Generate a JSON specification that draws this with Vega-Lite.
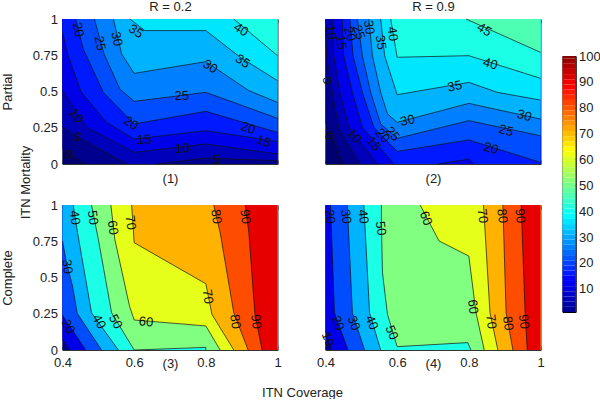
{
"$schema":"https://vega.github.io/schema/vega-lite/v6.json",
"padding":{"left":0.5,"top":0,"right":0,"bottom":0},
"config":{"view":{"stroke":null},"axis":{"zindex":1,"grid":false,"domain":true,"domainColor":"#333","domainWidth":1,"tickColor":"#333","tickWidth":1,"tickSize":-4,"labelFlush":false,"labelOverlap":false,"labelFont":"Liberation Sans","labelFontSize":13,"labelColor":"#222","titleFont":"Liberation Sans","titleFontSize":13,"titleFontWeight":"normal","titleColor":"#222","titleBaseline":"alphabetic"},"axisX":{"labelPadding":10},"axisY":{"labelPadding":9},"text":{"font":"Liberation Sans","fontSize":13,"color":"#111"}},
"datasets":{"contours":[
{"panel":1,"level":-5,"part":0,"seq":0,"x":0.4,"y":0},{"panel":1,"level":-5,"part":0,"seq":1,"x":1,"y":0},{"panel":1,"level":-5,"part":0,"seq":2,"x":1,"y":1},{"panel":1,"level":-5,"part":0,"seq":3,"x":0.4,"y":1},
{"panel":1,"level":0,"part":1,"seq":0,"x":0.4,"y":0.103},{"panel":1,"level":0,"part":1,"seq":1,"x":0.4625,"y":0},{"panel":1,"level":0,"part":0,"seq":2,"x":1,"y":0},{"panel":1,"level":0,"part":0,"seq":3,"x":1,"y":1},{"panel":1,"level":0,"part":0,"seq":4,"x":0.4,"y":1},
{"panel":1,"level":5,"part":1,"seq":0,"x":0.4,"y":0.253},{"panel":1,"level":5,"part":1,"seq":1,"x":0.453,"y":0.172},{"panel":1,"level":5,"part":1,"seq":2,"x":0.579,"y":0},{"panel":1,"level":5,"part":2,"seq":3,"x":0.663,"y":0},{"panel":1,"level":5,"part":2,"seq":4,"x":0.8,"y":0.041},{"panel":1,"level":5,"part":2,"seq":5,"x":1,"y":0.023},{"panel":1,"level":5,"part":0,"seq":6,"x":1,"y":1},{"panel":1,"level":5,"part":0,"seq":7,"x":0.4,"y":1},
{"panel":1,"level":10,"part":1,"seq":0,"x":0.4,"y":0.506},{"panel":1,"level":10,"part":1,"seq":1,"x":0.467,"y":0.253},{"panel":1,"level":10,"part":1,"seq":2,"x":0.6,"y":0.08},{"panel":1,"level":10,"part":1,"seq":3,"x":0.8,"y":0.138},{"panel":1,"level":10,"part":1,"seq":4,"x":1,"y":0.069},{"panel":1,"level":10,"part":0,"seq":5,"x":1,"y":1},{"panel":1,"level":10,"part":0,"seq":6,"x":0.4,"y":1},
{"panel":1,"level":15,"part":1,"seq":0,"x":0.4,"y":0.908},{"panel":1,"level":15,"part":1,"seq":1,"x":0.416,"y":0.747},{"panel":1,"level":15,"part":1,"seq":2,"x":0.453,"y":0.494},{"panel":1,"level":15,"part":1,"seq":3,"x":0.523,"y":0.287},{"panel":1,"level":15,"part":1,"seq":4,"x":0.6,"y":0.172},{"panel":1,"level":15,"part":1,"seq":5,"x":0.8,"y":0.23},{"panel":1,"level":15,"part":1,"seq":6,"x":1,"y":0.154},{"panel":1,"level":15,"part":0,"seq":7,"x":1,"y":1},{"panel":1,"level":15,"part":0,"seq":8,"x":0.4,"y":1},
{"panel":1,"level":20,"part":1,"seq":0,"x":0.437,"y":1},{"panel":1,"level":20,"part":1,"seq":1,"x":0.458,"y":0.793},{"panel":1,"level":20,"part":1,"seq":2,"x":0.514,"y":0.494},{"panel":1,"level":20,"part":1,"seq":3,"x":0.6,"y":0.276},{"panel":1,"level":20,"part":1,"seq":4,"x":0.8,"y":0.363},{"panel":1,"level":20,"part":1,"seq":5,"x":1,"y":0.218},{"panel":1,"level":20,"part":0,"seq":6,"x":1,"y":1},
{"panel":1,"level":25,"part":1,"seq":0,"x":0.489,"y":1},{"panel":1,"level":25,"part":1,"seq":1,"x":0.516,"y":0.759},{"panel":1,"level":25,"part":1,"seq":2,"x":0.56,"y":0.517},{"panel":1,"level":25,"part":1,"seq":3,"x":0.6,"y":0.432},{"panel":1,"level":25,"part":1,"seq":4,"x":0.8,"y":0.494},{"panel":1,"level":25,"part":1,"seq":5,"x":1,"y":0.315},{"panel":1,"level":25,"part":0,"seq":6,"x":1,"y":1},
{"panel":1,"level":30,"part":1,"seq":0,"x":0.542,"y":1},{"panel":1,"level":30,"part":1,"seq":1,"x":0.565,"y":0.759},{"panel":1,"level":30,"part":1,"seq":2,"x":0.6,"y":0.625},{"panel":1,"level":30,"part":1,"seq":3,"x":0.8,"y":0.706},{"panel":1,"level":30,"part":1,"seq":4,"x":0.92,"y":0.506},{"panel":1,"level":30,"part":1,"seq":5,"x":1,"y":0.425},{"panel":1,"level":30,"part":0,"seq":6,"x":1,"y":1},
{"panel":1,"level":35,"part":1,"seq":0,"x":0.588,"y":1},{"panel":1,"level":35,"part":1,"seq":1,"x":0.63,"y":0.92},{"panel":1,"level":35,"part":1,"seq":2,"x":0.8,"y":0.92},{"panel":1,"level":35,"part":1,"seq":3,"x":0.896,"y":0.736},{"panel":1,"level":35,"part":1,"seq":4,"x":1,"y":0.575},{"panel":1,"level":35,"part":0,"seq":5,"x":1,"y":1},
{"panel":1,"level":40,"part":1,"seq":0,"x":0.878,"y":1},{"panel":1,"level":40,"part":1,"seq":1,"x":1,"y":0.747},{"panel":1,"level":40,"part":0,"seq":2,"x":1,"y":1},

{"panel":2,"level":-5,"part":0,"seq":0,"x":0.4,"y":0},{"panel":2,"level":-5,"part":0,"seq":1,"x":1,"y":0},{"panel":2,"level":-5,"part":0,"seq":2,"x":1,"y":1},{"panel":2,"level":-5,"part":0,"seq":3,"x":0.4,"y":1},
{"panel":2,"level":0,"part":1,"seq":0,"x":0.4,"y":0.287},{"panel":2,"level":0,"part":1,"seq":1,"x":0.419,"y":0.195},{"panel":2,"level":0,"part":1,"seq":2,"x":0.449,"y":0},{"panel":2,"level":0,"part":0,"seq":3,"x":1,"y":0},{"panel":2,"level":0,"part":0,"seq":4,"x":1,"y":1},{"panel":2,"level":0,"part":0,"seq":5,"x":0.4,"y":1},
{"panel":2,"level":5,"part":1,"seq":0,"x":0.4,"y":0.931},{"panel":2,"level":5,"part":1,"seq":1,"x":0.403,"y":0.747},{"panel":2,"level":5,"part":1,"seq":2,"x":0.419,"y":0.494},{"panel":2,"level":5,"part":1,"seq":3,"x":0.437,"y":0.253},{"panel":2,"level":5,"part":1,"seq":4,"x":0.496,"y":0},{"panel":2,"level":5,"part":0,"seq":5,"x":1,"y":0},{"panel":2,"level":5,"part":0,"seq":6,"x":1,"y":1},{"panel":2,"level":5,"part":0,"seq":7,"x":0.4,"y":1},
{"panel":2,"level":10,"part":1,"seq":0,"x":0.419,"y":1},{"panel":2,"level":10,"part":1,"seq":1,"x":0.423,"y":0.747},{"panel":2,"level":10,"part":1,"seq":2,"x":0.44,"y":0.494},{"panel":2,"level":10,"part":1,"seq":3,"x":0.465,"y":0.253},{"panel":2,"level":10,"part":1,"seq":4,"x":0.545,"y":0},{"panel":2,"level":10,"part":0,"seq":5,"x":1,"y":0},{"panel":2,"level":10,"part":0,"seq":6,"x":1,"y":1},
{"panel":2,"level":15,"part":1,"seq":0,"x":0.447,"y":1},{"panel":2,"level":15,"part":1,"seq":1,"x":0.451,"y":0.747},{"panel":2,"level":15,"part":1,"seq":2,"x":0.475,"y":0.494},{"panel":2,"level":15,"part":1,"seq":3,"x":0.503,"y":0.253},{"panel":2,"level":15,"part":1,"seq":4,"x":0.591,"y":0},{"panel":2,"level":15,"part":2,"seq":5,"x":0.713,"y":0},{"panel":2,"level":15,"part":2,"seq":6,"x":0.8,"y":0.034},{"panel":2,"level":15,"part":2,"seq":7,"x":0.815,"y":0},{"panel":2,"level":15,"part":0,"seq":8,"x":1,"y":0},{"panel":2,"level":15,"part":0,"seq":9,"x":1,"y":1},
{"panel":2,"level":20,"part":1,"seq":0,"x":0.468,"y":1},{"panel":2,"level":20,"part":1,"seq":1,"x":0.477,"y":0.747},{"panel":2,"level":20,"part":1,"seq":2,"x":0.503,"y":0.494},{"panel":2,"level":20,"part":1,"seq":3,"x":0.535,"y":0.253},{"panel":2,"level":20,"part":1,"seq":4,"x":0.6,"y":0.087},{"panel":2,"level":20,"part":1,"seq":5,"x":0.8,"y":0.166},{"panel":2,"level":20,"part":1,"seq":6,"x":1,"y":0.011},{"panel":2,"level":20,"part":0,"seq":7,"x":1,"y":1},
{"panel":2,"level":25,"part":1,"seq":0,"x":0.489,"y":1},{"panel":2,"level":25,"part":1,"seq":1,"x":0.503,"y":0.747},{"panel":2,"level":25,"part":1,"seq":2,"x":0.526,"y":0.494},{"panel":2,"level":25,"part":1,"seq":3,"x":0.554,"y":0.276},{"panel":2,"level":25,"part":1,"seq":4,"x":0.6,"y":0.177},{"panel":2,"level":25,"part":1,"seq":5,"x":0.8,"y":0.299},{"panel":2,"level":25,"part":1,"seq":6,"x":1,"y":0.195},{"panel":2,"level":25,"part":0,"seq":7,"x":1,"y":1},
{"panel":2,"level":30,"part":1,"seq":0,"x":0.521,"y":1},{"panel":2,"level":30,"part":1,"seq":1,"x":0.531,"y":0.747},{"panel":2,"level":30,"part":1,"seq":2,"x":0.554,"y":0.494},{"panel":2,"level":30,"part":1,"seq":3,"x":0.573,"y":0.345},{"panel":2,"level":30,"part":1,"seq":4,"x":0.6,"y":0.287},{"panel":2,"level":30,"part":1,"seq":5,"x":0.8,"y":0.418},{"panel":2,"level":30,"part":1,"seq":6,"x":1,"y":0.31},{"panel":2,"level":30,"part":0,"seq":7,"x":1,"y":1},
{"panel":2,"level":35,"part":1,"seq":0,"x":0.554,"y":1},{"panel":2,"level":35,"part":1,"seq":1,"x":0.565,"y":0.747},{"panel":2,"level":35,"part":1,"seq":2,"x":0.6,"y":0.478},{"panel":2,"level":35,"part":1,"seq":3,"x":0.8,"y":0.563},{"panel":2,"level":35,"part":1,"seq":4,"x":0.88,"y":0.494},{"panel":2,"level":35,"part":1,"seq":5,"x":1,"y":0.441},{"panel":2,"level":35,"part":0,"seq":6,"x":1,"y":1},
{"panel":2,"level":40,"part":1,"seq":0,"x":0.582,"y":1},{"panel":2,"level":40,"part":1,"seq":1,"x":0.6,"y":0.736},{"panel":2,"level":40,"part":1,"seq":2,"x":0.8,"y":0.747},{"panel":2,"level":40,"part":1,"seq":3,"x":1,"y":0.591},{"panel":2,"level":40,"part":0,"seq":4,"x":1,"y":1},
{"panel":2,"level":45,"part":1,"seq":0,"x":0.792,"y":1},{"panel":2,"level":45,"part":1,"seq":1,"x":1,"y":0.77},{"panel":2,"level":45,"part":0,"seq":2,"x":1,"y":1},

{"panel":3,"level":0,"part":0,"seq":0,"x":0.4,"y":0},{"panel":3,"level":0,"part":0,"seq":1,"x":1,"y":0},{"panel":3,"level":0,"part":0,"seq":2,"x":1,"y":1},{"panel":3,"level":0,"part":0,"seq":3,"x":0.4,"y":1},
{"panel":3,"level":10,"part":1,"seq":0,"x":0.4,"y":0.074},{"panel":3,"level":10,"part":1,"seq":1,"x":0.42,"y":0},{"panel":3,"level":10,"part":0,"seq":2,"x":1,"y":0},{"panel":3,"level":10,"part":0,"seq":3,"x":1,"y":1},{"panel":3,"level":10,"part":0,"seq":4,"x":0.4,"y":1},
{"panel":3,"level":20,"part":1,"seq":0,"x":0.4,"y":0.239},{"panel":3,"level":20,"part":1,"seq":1,"x":0.465,"y":0},{"panel":3,"level":20,"part":0,"seq":2,"x":1,"y":0},{"panel":3,"level":20,"part":0,"seq":3,"x":1,"y":1},{"panel":3,"level":20,"part":0,"seq":4,"x":0.4,"y":1},
{"panel":3,"level":30,"part":1,"seq":0,"x":0.4,"y":0.752},{"panel":3,"level":30,"part":1,"seq":1,"x":0.411,"y":0.602},{"panel":3,"level":30,"part":1,"seq":2,"x":0.428,"y":0.441},{"panel":3,"level":30,"part":1,"seq":3,"x":0.441,"y":0.253},{"panel":3,"level":30,"part":1,"seq":4,"x":0.509,"y":0},{"panel":3,"level":30,"part":0,"seq":5,"x":1,"y":0},{"panel":3,"level":30,"part":0,"seq":6,"x":1,"y":1},{"panel":3,"level":30,"part":0,"seq":7,"x":0.4,"y":1},
{"panel":3,"level":40,"part":1,"seq":0,"x":0.43,"y":1},{"panel":3,"level":40,"part":1,"seq":1,"x":0.442,"y":0.809},{"panel":3,"level":40,"part":1,"seq":2,"x":0.481,"y":0.257},{"panel":3,"level":40,"part":1,"seq":3,"x":0.556,"y":0},{"panel":3,"level":40,"part":0,"seq":4,"x":1,"y":0},{"panel":3,"level":40,"part":0,"seq":5,"x":1,"y":1},
{"panel":3,"level":50,"part":1,"seq":0,"x":0.481,"y":1},{"panel":3,"level":50,"part":1,"seq":1,"x":0.5,"y":0.763},{"panel":3,"level":50,"part":1,"seq":2,"x":0.537,"y":0.257},{"panel":3,"level":50,"part":1,"seq":3,"x":0.6,"y":0},{"panel":3,"level":50,"part":1,"seq":4,"x":0.8,"y":0.018},{"panel":3,"level":50,"part":1,"seq":5,"x":0.8,"y":0},{"panel":3,"level":50,"part":0,"seq":6,"x":1,"y":0},{"panel":3,"level":50,"part":0,"seq":7,"x":1,"y":1},
{"panel":3,"level":60,"part":1,"seq":0,"x":0.535,"y":1},{"panel":3,"level":60,"part":1,"seq":1,"x":0.546,"y":0.763},{"panel":3,"level":60,"part":1,"seq":2,"x":0.587,"y":0.303},{"panel":3,"level":60,"part":1,"seq":3,"x":0.6,"y":0.207},{"panel":3,"level":60,"part":1,"seq":4,"x":0.8,"y":0.166},{"panel":3,"level":60,"part":1,"seq":5,"x":0.84,"y":0},{"panel":3,"level":60,"part":0,"seq":6,"x":1,"y":0},{"panel":3,"level":60,"part":0,"seq":7,"x":1,"y":1},
{"panel":3,"level":70,"part":1,"seq":0,"x":0.593,"y":1},{"panel":3,"level":70,"part":1,"seq":1,"x":0.6,"y":0.74},{"panel":3,"level":70,"part":1,"seq":2,"x":0.8,"y":0.457},{"panel":3,"level":70,"part":1,"seq":3,"x":0.817,"y":0.246},{"panel":3,"level":70,"part":1,"seq":4,"x":0.878,"y":0},{"panel":3,"level":70,"part":0,"seq":5,"x":1,"y":0},{"panel":3,"level":70,"part":0,"seq":6,"x":1,"y":1},
{"panel":3,"level":80,"part":1,"seq":0,"x":0.822,"y":1},{"panel":3,"level":80,"part":1,"seq":1,"x":0.84,"y":0.809},{"panel":3,"level":80,"part":1,"seq":2,"x":0.878,"y":0.257},{"panel":3,"level":80,"part":1,"seq":3,"x":0.918,"y":0},{"panel":3,"level":80,"part":0,"seq":4,"x":1,"y":0},{"panel":3,"level":80,"part":0,"seq":5,"x":1,"y":1},
{"panel":3,"level":90,"part":1,"seq":0,"x":0.91,"y":1},{"panel":3,"level":90,"part":1,"seq":1,"x":0.92,"y":0.809},{"panel":3,"level":90,"part":1,"seq":2,"x":0.937,"y":0.246},{"panel":3,"level":90,"part":1,"seq":3,"x":0.957,"y":0},{"panel":3,"level":90,"part":0,"seq":4,"x":1,"y":0},{"panel":3,"level":90,"part":0,"seq":5,"x":1,"y":1},

{"panel":4,"level":0,"part":0,"seq":0,"x":0.4,"y":0},{"panel":4,"level":0,"part":0,"seq":1,"x":1,"y":0},{"panel":4,"level":0,"part":0,"seq":2,"x":1,"y":1},{"panel":4,"level":0,"part":0,"seq":3,"x":0.4,"y":1},
{"panel":4,"level":10,"part":1,"seq":0,"x":0.4,"y":0.131},{"panel":4,"level":10,"part":1,"seq":1,"x":0.416,"y":0},{"panel":4,"level":10,"part":0,"seq":2,"x":1,"y":0},{"panel":4,"level":10,"part":0,"seq":3,"x":1,"y":1},{"panel":4,"level":10,"part":0,"seq":4,"x":0.4,"y":1},
{"panel":4,"level":20,"part":1,"seq":0,"x":0.414,"y":1},{"panel":4,"level":20,"part":1,"seq":1,"x":0.425,"y":0.257},{"panel":4,"level":20,"part":1,"seq":2,"x":0.463,"y":0},{"panel":4,"level":20,"part":0,"seq":3,"x":1,"y":0},{"panel":4,"level":20,"part":0,"seq":4,"x":1,"y":1},
{"panel":4,"level":30,"part":1,"seq":0,"x":0.461,"y":1},{"panel":4,"level":30,"part":1,"seq":1,"x":0.475,"y":0.257},{"panel":4,"level":30,"part":1,"seq":2,"x":0.509,"y":0},{"panel":4,"level":30,"part":0,"seq":3,"x":1,"y":0},{"panel":4,"level":30,"part":0,"seq":4,"x":1,"y":1},
{"panel":4,"level":40,"part":1,"seq":0,"x":0.507,"y":1},{"panel":4,"level":40,"part":1,"seq":1,"x":0.523,"y":0.257},{"panel":4,"level":40,"part":1,"seq":2,"x":0.554,"y":0},{"panel":4,"level":40,"part":0,"seq":3,"x":1,"y":0},{"panel":4,"level":40,"part":0,"seq":4,"x":1,"y":1},
{"panel":4,"level":50,"part":1,"seq":0,"x":0.556,"y":1},{"panel":4,"level":50,"part":1,"seq":1,"x":0.556,"y":0.878},{"panel":4,"level":50,"part":1,"seq":2,"x":0.559,"y":0.533},{"panel":4,"level":50,"part":1,"seq":3,"x":0.573,"y":0.246},{"panel":4,"level":50,"part":1,"seq":4,"x":0.6,"y":0.023},{"panel":4,"level":50,"part":1,"seq":5,"x":0.797,"y":0.051},{"panel":4,"level":50,"part":1,"seq":6,"x":0.806,"y":0},{"panel":4,"level":50,"part":0,"seq":7,"x":1,"y":0},{"panel":4,"level":50,"part":0,"seq":8,"x":1,"y":1},
{"panel":4,"level":60,"part":1,"seq":0,"x":0.664,"y":1},{"panel":4,"level":60,"part":1,"seq":1,"x":0.717,"y":0.752},{"panel":4,"level":60,"part":1,"seq":2,"x":0.8,"y":0.648},{"panel":4,"level":60,"part":1,"seq":3,"x":0.82,"y":0.257},{"panel":4,"level":60,"part":1,"seq":4,"x":0.843,"y":0},{"panel":4,"level":60,"part":0,"seq":5,"x":1,"y":0},{"panel":4,"level":60,"part":0,"seq":6,"x":1,"y":1},
{"panel":4,"level":70,"part":1,"seq":0,"x":0.841,"y":1},{"panel":4,"level":70,"part":1,"seq":1,"x":0.859,"y":0.257},{"panel":4,"level":70,"part":1,"seq":2,"x":0.881,"y":0},{"panel":4,"level":70,"part":0,"seq":3,"x":1,"y":0},{"panel":4,"level":70,"part":0,"seq":4,"x":1,"y":1},
{"panel":4,"level":80,"part":1,"seq":0,"x":0.895,"y":1},{"panel":4,"level":80,"part":1,"seq":1,"x":0.904,"y":0.257},{"panel":4,"level":80,"part":1,"seq":2,"x":0.923,"y":0},{"panel":4,"level":80,"part":0,"seq":3,"x":1,"y":0},{"panel":4,"level":80,"part":0,"seq":4,"x":1,"y":1},
{"panel":4,"level":90,"part":1,"seq":0,"x":0.946,"y":1},{"panel":4,"level":90,"part":1,"seq":1,"x":0.957,"y":0.257},{"panel":4,"level":90,"part":1,"seq":2,"x":0.963,"y":0},{"panel":4,"level":90,"part":0,"seq":3,"x":1,"y":0},{"panel":4,"level":90,"part":0,"seq":4,"x":1,"y":1}
]},
"hconcat":[
{"columns":2,"spacing":{"row":41,"column":48},"bounds":"flush","concat":[
{"width":215,"height":145,
"encoding":{"x":{"field":"x","type":"quantitative","scale":{"domain":[0.4,1]},"axis":null},"y":{"field":"y","type":"quantitative","scale":{"domain":[0,1]},"axis":null},"text":{"field":"t"}},
"resolve":{"axis":{"x":"independent","y":"independent"}},
"layer":[
{"data":{"name":"contours"},"transform":[{"filter":"datum.panel==1"}],"mark":{"type":"line","strokeWidth":0},"encoding":{"text":null,"fill":{"field":"level","type":"quantitative","legend":null,"scale":{"type":"linear","interpolate":"rgb","domain":[-5,0,12.5,37.5,62.5,87.5,100],"range":["#000070","#00008f","#0000ff","#00ffff","#ffff00","#ff0000","#800000"]}},"detail":{"field":"level"},"order":{"field":"seq"}}},
{"data":{"name":"contours"},"transform":[{"filter":"datum.panel==1 && datum.part>0"}],"mark":{"type":"line","strokeWidth":0.7,"color":"#111"},"encoding":{"text":null,"detail":[{"field":"level"},{"field":"part"}],"order":{"field":"seq"}}},
{"data":{"values":[{"t":"25","x":0.733,"y":0.469},{"t":"10","x":0.735,"y":0.106},{"t":"5","x":0.831,"y":0.028},{"t":"15","x":0.628,"y":0.168}]},"mark":{"type":"text","angle":357}},
{"data":{"values":[{"t":"20","x":0.918,"y":0.246},{"t":"15","x":0.962,"y":0.156}]},"mark":{"type":"text","angle":20}},
{"data":{"values":[{"t":"35","x":0.605,"y":0.915},{"t":"35","x":0.903,"y":0.708},{"t":"30","x":0.812,"y":0.671},{"t":"20","x":0.591,"y":0.28},{"t":"5","x":0.441,"y":0.184},{"t":"0","x":0.418,"y":0.064},{"t":"40","x":0.898,"y":0.926}]},"mark":{"type":"text","angle":33}},
{"data":{"values":[{"t":"10","x":0.439,"y":0.333}]},"mark":{"type":"text","angle":55}},
{"data":{"values":[{"t":"20","x":0.444,"y":0.926},{"t":"25","x":0.5045,"y":0.832},{"t":"30","x":0.551,"y":0.862}]},"mark":{"type":"text","angle":78}},
{"data":{"values":[{"x":0.4,"y":0}]},"mark":{"type":"point","opacity":0},"encoding":{"text":null,"x":{"field":"x","type":"quantitative","axis":{"orient":"bottom","values":[0.4,0.6,0.8,1],"labels":false,"title":"(1)","titleY":18.5}},"y":{"field":"y","type":"quantitative","axis":{"orient":"left","values":[0,0.25,0.5,0.75,1],"format":".2~f","title":"Partial","titleX":-51}}}},
{"data":{"values":[{"x":0.4,"y":0}]},"mark":{"type":"point","opacity":0},"encoding":{"text":null,"x":{"field":"x","type":"quantitative","axis":{"orient":"top","values":[0.4,0.6,0.8,1],"labels":false,"title":"R = 0.2","titleY":-8.5}},"y":{"field":"y","type":"quantitative","axis":{"orient":"right","values":[0,0.25,0.5,0.75,1],"labels":false,"title":null}}}},
{"data":{"values":[{"x":0.4,"y":0}]},"mark":{"type":"point","opacity":0},"encoding":{"text":null,"y":{"field":"y","type":"quantitative","axis":{"orient":"left","ticks":false,"labels":false,"domain":false,"title":"ITN Mortality","titleX":-33.5,"titleY":163}}}}
]},
{"width":215,"height":145,
"encoding":{"x":{"field":"x","type":"quantitative","scale":{"domain":[0.4,1]},"axis":null},"y":{"field":"y","type":"quantitative","scale":{"domain":[0,1]},"axis":null},"text":{"field":"t"}},
"resolve":{"axis":{"x":"independent","y":"independent"}},
"layer":[
{"data":{"name":"contours"},"transform":[{"filter":"datum.panel==2"}],"mark":{"type":"line","strokeWidth":0},"encoding":{"text":null,"fill":{"field":"level","type":"quantitative","legend":null,"scale":{"type":"linear","interpolate":"rgb","domain":[-5,0,12.5,37.5,62.5,87.5,100],"range":["#000070","#00008f","#0000ff","#00ffff","#ffff00","#ff0000","#800000"]}},"detail":{"field":"level"},"order":{"field":"seq"}}},
{"data":{"name":"contours"},"transform":[{"filter":"datum.panel==2 && datum.part>0"}],"mark":{"type":"line","strokeWidth":0.7,"color":"#111"},"encoding":{"text":null,"detail":[{"field":"level"},{"field":"part"}],"order":{"field":"seq"}}},
{"data":{"values":[{"t":"10","x":0.416,"y":0.908},{"t":"15","x":0.444,"y":0.839},{"t":"30","x":0.521,"y":0.943},{"t":"35","x":0.554,"y":0.839},{"t":"40","x":0.587,"y":0.897},{"t":"5","x":0.405,"y":0.575}]},"mark":{"type":"text","angle":82}},
{"data":{"values":[{"t":"20","x":0.468,"y":0.897},{"t":"25","x":0.493,"y":0.908},{"t":"0","x":0.411,"y":0.191}]},"mark":{"type":"text","angle":72}},
{"data":{"values":[{"t":"45","x":0.843,"y":0.926}]},"mark":{"type":"text","angle":30}},
{"data":{"values":[{"t":"40","x":0.86,"y":0.69},{"t":"30","x":0.955,"y":0.333},{"t":"25","x":0.904,"y":0.23},{"t":"20","x":0.862,"y":0.108}]},"mark":{"type":"text","angle":16}},
{"data":{"values":[{"t":"35","x":0.761,"y":0.536},{"t":"30","x":0.629,"y":0.299}]},"mark":{"type":"text","angle":348}},
{"data":{"values":[{"t":"25","x":0.587,"y":0.207},{"t":"20","x":0.559,"y":0.195},{"t":"15","x":0.535,"y":0.138},{"t":"10","x":0.481,"y":0.191}]},"mark":{"type":"text","angle":50}},
{"data":{"values":[{"x":0.4,"y":0}]},"mark":{"type":"point","opacity":0},"encoding":{"text":null,"x":{"field":"x","type":"quantitative","axis":{"orient":"bottom","values":[0.4,0.6,0.8,1],"labels":false,"title":"(2)","titleY":18.5}},"y":{"field":"y","type":"quantitative","axis":{"orient":"left","values":[0,0.25,0.5,0.75,1],"labels":false,"title":null}}}},
{"data":{"values":[{"x":0.4,"y":0}]},"mark":{"type":"point","opacity":0},"encoding":{"text":null,"x":{"field":"x","type":"quantitative","axis":{"orient":"top","values":[0.4,0.6,0.8,1],"labels":false,"title":"R = 0.9","titleY":-8.5}},"y":{"field":"y","type":"quantitative","axis":{"orient":"right","values":[0,0.25,0.5,0.75,1],"labels":false,"title":null}}}}
]},
{"width":215,"height":145,
"encoding":{"x":{"field":"x","type":"quantitative","scale":{"domain":[0.4,1]},"axis":null},"y":{"field":"y","type":"quantitative","scale":{"domain":[0,1]},"axis":null},"text":{"field":"t"}},
"resolve":{"axis":{"x":"independent","y":"independent"}},
"layer":[
{"data":{"name":"contours"},"transform":[{"filter":"datum.panel==3"}],"mark":{"type":"line","strokeWidth":0},"encoding":{"text":null,"fill":{"field":"level","type":"quantitative","legend":null,"scale":{"type":"linear","interpolate":"rgb","domain":[-5,0,12.5,37.5,62.5,87.5,100],"range":["#000070","#00008f","#0000ff","#00ffff","#ffff00","#ff0000","#800000"]}},"detail":{"field":"level"},"order":{"field":"seq"}}},
{"data":{"name":"contours"},"transform":[{"filter":"datum.panel==3 && datum.part>0"}],"mark":{"type":"line","strokeWidth":0.7,"color":"#111"},"encoding":{"text":null,"detail":[{"field":"level"},{"field":"part"}],"order":{"field":"seq"}}},
{"data":{"values":[{"t":"40","x":0.434,"y":0.913},{"t":"50","x":0.484,"y":0.913},{"t":"60","x":0.54,"y":0.844},{"t":"70","x":0.59,"y":0.878},{"t":"80","x":0.829,"y":0.92},{"t":"90","x":0.91,"y":0.92},{"t":"30","x":0.413,"y":0.575},{"t":"70","x":0.805,"y":0.368},{"t":"80","x":0.882,"y":0.195},{"t":"90","x":0.94,"y":0.195}]},"mark":{"type":"text","angle":82}},
{"data":{"values":[{"t":"20","x":0.416,"y":0.161},{"t":"40","x":0.502,"y":0.195},{"t":"50","x":0.548,"y":0.195}]},"mark":{"type":"text","angle":62}},
{"data":{"values":[{"t":"60","x":0.633,"y":0.193}]},"mark":{"type":"text","angle":5}},
{"data":{"values":[{"x":0.4,"y":0}]},"mark":{"type":"point","opacity":0},"encoding":{"text":null,"x":{"field":"x","type":"quantitative","axis":{"orient":"bottom","values":[0.4,0.6,0.8,1],"format":".1~f","title":"(3)","titleY":17}},"y":{"field":"y","type":"quantitative","axis":{"orient":"left","values":[0,0.25,0.5,0.75,1],"format":".2~f","title":"Complete","titleX":-51}}}},
{"data":{"values":[{"x":0.4,"y":0}]},"mark":{"type":"point","opacity":0},"encoding":{"text":null,"x":{"field":"x","type":"quantitative","axis":{"orient":"top","values":[0.4,0.6,0.8,1],"labels":false,"title":null}},"y":{"field":"y","type":"quantitative","axis":{"orient":"right","values":[0,0.25,0.5,0.75,1],"labels":false,"title":null}}}},
{"data":{"values":[{"x":0.4,"y":0}]},"mark":{"type":"point","opacity":0},"encoding":{"text":null,"x":{"field":"x","type":"quantitative","axis":{"orient":"bottom","ticks":false,"labels":false,"domain":false,"title":"ITN Coverage","titleX":239.5,"titleY":46}}}}
]},
{"width":215,"height":145,
"encoding":{"x":{"field":"x","type":"quantitative","scale":{"domain":[0.4,1]},"axis":null},"y":{"field":"y","type":"quantitative","scale":{"domain":[0,1]},"axis":null},"text":{"field":"t"}},
"resolve":{"axis":{"x":"independent","y":"independent"}},
"layer":[
{"data":{"name":"contours"},"transform":[{"filter":"datum.panel==4"}],"mark":{"type":"line","strokeWidth":0},"encoding":{"text":null,"fill":{"field":"level","type":"quantitative","legend":null,"scale":{"type":"linear","interpolate":"rgb","domain":[-5,0,12.5,37.5,62.5,87.5,100],"range":["#000070","#00008f","#0000ff","#00ffff","#ffff00","#ff0000","#800000"]}},"detail":{"field":"level"},"order":{"field":"seq"}}},
{"data":{"name":"contours"},"transform":[{"filter":"datum.panel==4 && datum.part>0"}],"mark":{"type":"line","strokeWidth":0.7,"color":"#111"},"encoding":{"text":null,"detail":[{"field":"level"},{"field":"part"}],"order":{"field":"seq"}}},
{"data":{"values":[{"t":"20","x":0.412,"y":0.92},{"t":"30","x":0.457,"y":0.92},{"t":"40","x":0.505,"y":0.92},{"t":"50","x":0.554,"y":0.839},{"t":"70","x":0.838,"y":0.924},{"t":"80","x":0.893,"y":0.924},{"t":"90","x":0.943,"y":0.924},{"t":"60","x":0.811,"y":0.299},{"t":"70","x":0.862,"y":0.195},{"t":"80","x":0.909,"y":0.184},{"t":"90","x":0.953,"y":0.195}]},"mark":{"type":"text","angle":83}},
{"data":{"values":[{"t":"20","x":0.435,"y":0.184},{"t":"30","x":0.479,"y":0.184},{"t":"40","x":0.529,"y":0.189},{"t":"50","x":0.585,"y":0.12},{"t":"10","x":0.407,"y":0.074},{"t":"60","x":0.68,"y":0.908}]},"mark":{"type":"text","angle":68}},
{"data":{"values":[{"x":0.4,"y":0}]},"mark":{"type":"point","opacity":0},"encoding":{"text":null,"x":{"field":"x","type":"quantitative","axis":{"orient":"bottom","values":[0.4,0.6,0.8,1],"format":".1~f","title":"(4)","titleY":17}},"y":{"field":"y","type":"quantitative","axis":{"orient":"left","values":[0,0.25,0.5,0.75,1],"labels":false,"title":null}}}},
{"data":{"values":[{"x":0.4,"y":0}]},"mark":{"type":"point","opacity":0},"encoding":{"text":null,"x":{"field":"x","type":"quantitative","axis":{"orient":"top","values":[0.4,0.6,0.8,1],"labels":false,"title":null}},"y":{"field":"y","type":"quantitative","axis":{"orient":"right","values":[0,0.25,0.5,0.75,1],"labels":false,"title":null}}}}
]}
]},
{"vconcat":[
{"width":13,"height":37,"data":{"values":[{"t":""}]},"mark":{"type":"text"},"encoding":{"text":{"field":"t"}}},
{"width":13,"height":256,"view":{"stroke":"#000","strokeWidth":1},
"data":{"values":[{"lo":1,"hi":3},{"lo":3,"hi":5},{"lo":5,"hi":7},{"lo":7,"hi":9},{"lo":9,"hi":11},{"lo":11,"hi":13},{"lo":13,"hi":15},{"lo":15,"hi":17},{"lo":17,"hi":19},{"lo":19,"hi":21},{"lo":21,"hi":23},{"lo":23,"hi":25},{"lo":25,"hi":27},{"lo":27,"hi":29},{"lo":29,"hi":31},{"lo":31,"hi":33},{"lo":33,"hi":35},{"lo":35,"hi":37},{"lo":37,"hi":39},{"lo":39,"hi":41},{"lo":41,"hi":43},{"lo":43,"hi":45},{"lo":45,"hi":47},{"lo":47,"hi":49},{"lo":49,"hi":51},{"lo":51,"hi":53},{"lo":53,"hi":55},{"lo":55,"hi":57},{"lo":57,"hi":59},{"lo":59,"hi":61},{"lo":61,"hi":63},{"lo":63,"hi":65},{"lo":65,"hi":67},{"lo":67,"hi":69},{"lo":69,"hi":71},{"lo":71,"hi":73},{"lo":73,"hi":75},{"lo":75,"hi":77},{"lo":77,"hi":79},{"lo":79,"hi":81},{"lo":81,"hi":83},{"lo":83,"hi":85},{"lo":85,"hi":87},{"lo":87,"hi":89},{"lo":89,"hi":91},{"lo":91,"hi":93},{"lo":93,"hi":95},{"lo":95,"hi":97},{"lo":97,"hi":99},{"lo":99,"hi":100}]},
"mark":{"type":"rect"},
"encoding":{"y":{"field":"lo","type":"quantitative","scale":{"domain":[1,100]},"axis":{"orient":"right","values":[10,20,30,40,50,60,70,80,90,100],"title":null,"tickSize":-3,"labelPadding":6,"domainColor":"#000","tickColor":"#000"}},"y2":{"field":"hi"},"fill":{"field":"lo","type":"quantitative","legend":null,"scale":{"type":"linear","interpolate":"rgb","domain":[-5,0,12.5,37.5,62.5,87.5,100],"range":["#000070","#00008f","#0000ff","#00ffff","#ffff00","#ff0000","#800000"]}}}}
],"spacing":0,"bounds":"flush"}
],"spacing":17
}
